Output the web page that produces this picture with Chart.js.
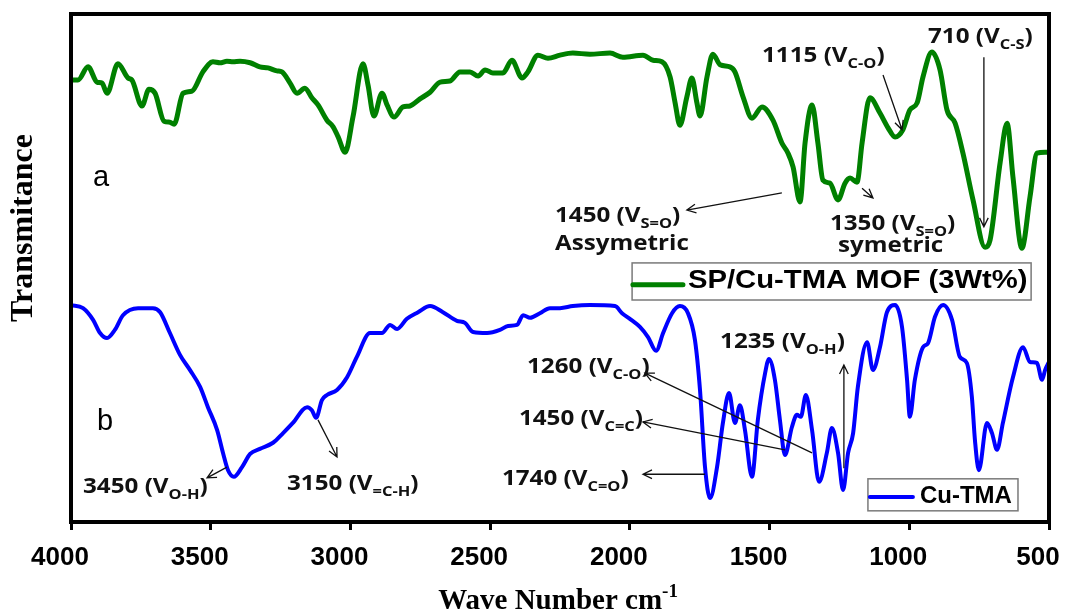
<!DOCTYPE html>
<html><head><meta charset="utf-8">
<script src="https://cdn.jsdelivr.net/npm/chart.js@4.4.1/dist/chart.umd.min.js"></script>
<style>html,body{margin:0;padding:0;background:#fff;}#wrap{width:1066px;height:613px;position:relative;}</style>
</head><body><div id="wrap"><canvas id="c"></canvas></div>
<script>
// ---- data (wavenumber cm-1, transmittance in arbitrary units) ----
const xTicks = [4000,3500,3000,2500,2000,1500,1000,500];
const seriesNames = ['SP/Cu-TMA MOF (3Wt%)', 'Cu-TMA'];
const greenWn = [4000,3975,3939,3907,3889,3871,3832,3796,3782,3746,
 3721,3699,3667,3646,3631,3599,3567,3528,3492,3467,
 3442,3420,3395,3359,3324,3295,3263,3245,3216,3191,
 3163,3138,3116,3084,3062,3044,3019,2991,2955,2937,
 2916,2887,2869,2844,2812,2787,2751,2715,2679,2644,
 2608,2572,2543,2518,2490,2454,2422,2386,2365,2329,
 2293,2250,2204,2143,2071,2025,1953,1917,1885,1856,
 1838,1821,1796,1778,1760,1749,1724,1703,1677,1642,
 1624,1595,1563,1527,1488,1456,1434,1416,1391,1373,
 1348,1327,1309,1284,1255,1230,1212,1187,1169,1141,
 1105,1076,1051,1023,998,972,951,919,890,865,
 836,808,772,729,711,675,650,629,597,568,
 543,514,500];
const greenT = [87.0,87.0,89.6,86.6,86.4,84.4,90.2,87.4,87.0,81.9,
 85.2,84.4,78.9,78.7,78.3,84.4,84.8,88.6,90.6,90.4,
 90.7,90.6,90.7,90.4,89.6,89.4,88.8,88.6,86.4,84.4,
 85.4,83.5,82.1,79.1,77.8,75.8,72.8,79.7,90.2,86.0,
 79.9,84.4,82.1,79.7,81.7,81.9,83.3,84.6,86.6,86.8,
 88.6,88.6,87.8,89.0,88.4,88.4,90.9,87.4,88.6,91.9,
 91.3,91.9,92.3,92.1,92.3,91.5,91.9,90.9,90.6,87.6,
 82.5,78.1,83.7,87.4,82.5,79.9,87.6,92.1,90.0,89.6,
 88.6,83.7,79.5,81.7,79.1,74.6,72.6,69.9,63.0,74.6,
 82.1,74.6,67.3,66.7,63.4,66.7,67.7,66.9,74.6,83.5,
 80.5,77.6,75.8,77.2,81.1,82.5,87.6,92.5,89.0,81.1,
 78.5,72.6,63.4,54.1,55.5,70.7,78.5,67.9,53.9,64.0,
 72.6,72.8,72.8];
const blueWn = [4000,3957,3921,3896,3871,3843,3814,3760,3707,3681,
 3646,3610,3574,3538,3510,3477,3456,3438,3417,3388,
 3359,3324,3277,3241,3206,3155,3138,3123,3102,3084,
 3048,3012,2977,2930,2887,2858,2833,2798,2758,2715,
 2669,2619,2590,2561,2511,2465,2436,2404,2382,2357,
 2322,2286,2250,2204,2143,2053,2028,2000,1964,1935,
 1906,1881,1849,1821,1792,1767,1749,1731,1713,1688,
 1667,1645,1624,1606,1588,1563,1542,1516,1502,1481,
 1463,1445,1420,1402,1388,1370,1348,1323,1295,1277,
 1255,1237,1219,1201,1184,1151,1130,1105,1080,1051,
 1026,1008,998,980,951,933,908,879,847,819,
 794,776,765,751,722,704,686,665,629,593,
 568,543,525,514,500];
const blueT = [42.7,42.1,39.8,37.2,36.2,37.8,40.7,42.1,42.1,41.3,
 37.2,32.9,29.9,26.6,22.6,18.1,13.6,10.2,8.9,10.8,
 13.4,14.4,15.6,17.5,19.5,22.6,22.0,20.5,24.0,25.0,
 26.0,28.5,32.5,37.2,37.2,38.8,38.0,40.0,41.3,42.5,
 41.3,39.6,39.2,37.4,37.2,37.8,38.6,38.8,40.7,40.2,
 41.1,42.1,42.1,42.5,42.7,42.5,41.1,40.0,38.4,36.4,
 33.7,37.2,41.1,42.5,41.1,35.8,26.0,10.8,4.7,10.8,
 19.5,25.4,19.5,23.0,18.1,8.9,20.1,29.3,32.1,28.0,
 20.1,13.2,18.7,21.1,20.7,25.0,18.1,7.9,13.6,18.5,
 13.6,6.3,13.6,17.5,26.6,35.4,29.9,34.4,41.3,42.7,
 38.4,28.0,20.7,28.0,34.4,35.2,40.4,42.7,39.8,32.5,
 31.3,24.6,16.1,10.2,19.5,17.5,14.2,19.5,28.5,34.4,
 31.5,31.3,28.0,29.9,31.5];

// ---- annotations (positions in data units: wavenumber, transmittance) ----
const peakLabels = [
 {wn:1527, v:90.6, parts:[['1115 (V'],['C-O','sub'],[')']]},
 {wn:933,  v:94.3, parts:[['710 (V'],['C-S','sub'],[')']]},
 {wn:2268, v:59.1, parts:[['1450 (V'],['S=O','sub'],[')']]},
 {wn:2268, v:53.5, parts:[['Assymetric']]},
 {wn:1284, v:57.5, parts:[['1350 (V'],['S=O','sub'],[')']]},
 {wn:1255, v:53.1, parts:[['symetric']]},
 {wn:3957, v:5.7,  parts:[['3450 (V'],['O-H','sub'],[')']]},
 {wn:3227, v:6.3,  parts:[['3150 (V'],['=C-H','sub'],[')']]},
 {wn:1677, v:34.3, parts:[['1235 (V'],['O-H','sub'],[')']]},
 {wn:2368, v:29.3, parts:[['1260 (V'],['C-O','sub'],[')']]},
 {wn:2397, v:19.1, parts:[['1450 (V'],['C=C','sub'],[')']]},
 {wn:2458, v:7.3,  parts:[['1740 (V'],['C=O','sub'],[')']]}
];
const arrows = [
 [1094,88.0,1026,77.2],[733,91.5,733,58.1],[1456,64.8,1796,61.4],[1169,65.7,1130,63.8],
 [3442,10.8,3513,8.7],[3116,20.1,3048,12.8],[1234,10.6,1234,30.9],
 [1348,13.6,1946,29.3],[1445,14.2,1953,19.7],[1731,9.4,1953,9.4]
];
const curveTags = [{wn:3921, v:66.1, text:'a'},{wn:3907, v:18.1, text:'b'}];
const legendBoxes = [
 {x1:1992,x2:564,y1:51.0,y2:43.7,l1:1989,l2:1810,lv:46.7,tw:1792,tv:46.1,color:'#008000',lw:5,sx:1.17,size:25},
 {x1:1148,x2:611,y1:8.5,y2:2.2,l1:1141,l2:987,lv:4.9,tw:962,tv:3.7,color:'#0000ff',lw:4,sx:1.0,size:24}
];

const SANS = '"Liberation Sans", Arial, sans-serif';
const LBL = '"Open Sans", "Noto Sans", sans-serif';
const SERIF = '"Liberation Serif", "Times New Roman", serif';

function drawParts(ctx, x, y, parts, size, family, weight, sx){
  ctx.save(); ctx.translate(x, y); ctx.scale(sx, 1);
  ctx.textAlign = 'left'; ctx.textBaseline = 'alphabetic';
  let cx = 0;
  for (const [t, k] of parts){
    const s = k === 'sub' ? size*0.68 : (k === 'sup' ? size*0.66 : size);
    const dy = k === 'sub' ? size*0.28 : (k === 'sup' ? -size*0.42 : 0);
    ctx.font = `${weight} ${s}px ${family}`;
    ctx.fillText(t, cx, dy);
    cx += ctx.measureText(t).width;
  }
  ctx.restore();
}
function arrow(ctx, x1, y1, x2, y2){
  const ang = Math.atan2(y2-y1, x2-x1), h = 10, w = 0.45;
  ctx.beginPath(); ctx.moveTo(x1,y1); ctx.lineTo(x2,y2);
  ctx.moveTo(x2 - h*Math.cos(ang-w), y2 - h*Math.sin(ang-w));
  ctx.lineTo(x2, y2);
  ctx.lineTo(x2 - h*Math.cos(ang+w), y2 - h*Math.sin(ang+w));
  ctx.stroke();
}

const decor = {
  id: 'decor',
  afterDraw(chart){
    const {ctx, chartArea: a, scales: {x, y}} = chart;
    const X = w => x.getPixelForValue(w), Y = v => y.getPixelForValue(v);
    ctx.save();
    // frame
    ctx.strokeStyle = '#000'; ctx.lineWidth = 4; ctx.lineCap = 'square';
    ctx.beginPath();
    ctx.moveTo(a.left, a.top); ctx.lineTo(a.right, a.top); ctx.lineTo(a.right, a.bottom);
    ctx.lineTo(a.left, a.bottom); ctx.closePath(); ctx.stroke();
    // arrows
    ctx.lineCap = 'butt'; ctx.strokeStyle = '#111'; ctx.lineWidth = 1.3;
    for (const [w1,v1,w2,v2] of arrows) arrow(ctx, X(w1), Y(v1), X(w2), Y(v2));
    // peak labels
    ctx.fillStyle = '#111';
    for (const p of peakLabels) drawParts(ctx, X(p.wn), Y(p.v), p.parts, 22, LBL, 700, 1.1);
    // a / b
    ctx.fillStyle = '#000';
    for (const t of curveTags) drawParts(ctx, X(t.wn), Y(t.v), [[t.text]], 29, SANS, 400, 1.0);
    // legends
    legendBoxes.forEach((L, i) => {
      const bx = X(L.x1), by = Y(L.y1), bw = X(L.x2)-bx, bh = Y(L.y2)-by;
      ctx.fillStyle = '#fff'; ctx.fillRect(bx, by, bw, bh);
      ctx.strokeStyle = '#7a7a7a'; ctx.lineWidth = 1.5; ctx.strokeRect(bx, by, bw, bh);
      ctx.strokeStyle = L.color; ctx.lineWidth = L.lw; ctx.lineCap = 'round';
      ctx.beginPath(); ctx.moveTo(X(L.l1), Y(L.lv)); ctx.lineTo(X(L.l2), Y(L.lv)); ctx.stroke();
      ctx.lineCap = 'butt';
      ctx.fillStyle = '#000';
      drawParts(ctx, X(L.tw), Y(L.tv), [[seriesNames[i]]], L.size, SANS, 700, L.sx);
    });
    // axis titles
    ctx.fillStyle = '#000';
    ctx.save();
    ctx.translate(24, 228); ctx.rotate(-Math.PI/2);
    ctx.font = `bold 32px ${SERIF}`; ctx.textAlign = 'center'; ctx.textBaseline = 'middle';
    ctx.fillText('Transmitance', 0, 0);
    ctx.restore();
    ctx.font = `bold 29px ${SERIF}`;
    const main = 'Wave Number cm';
    const mw = ctx.measureText(main).width;
    ctx.font = `bold 19px ${SERIF}`;
    const sw = ctx.measureText('-1').width;
    const sx0 = (a.left + a.right)/2 - (mw + sw)/2 - 2;
    drawParts(ctx, sx0, 609, [[main],['-1','sup']], 29, SERIF, 'bold', 1.0);
    ctx.restore();
  }
};

const toPts = (xs, ys) => xs.map((w, i) => ({x: w, y: ys[i]}));

new Chart(document.getElementById('c'), {
  type: 'line',
  data: {
    datasets: [
      {label: seriesNames[0], data: toPts(greenWn, greenT), borderColor: '#008000', borderWidth: 5,
       pointRadius: 0, cubicInterpolationMode: 'monotone', fill: false},
      {label: seriesNames[1], data: toPts(blueWn, blueT), borderColor: '#0000ff', borderWidth: 4,
       pointRadius: 0, cubicInterpolationMode: 'monotone', fill: false}
    ]
  },
  options: {
    responsive: true, maintainAspectRatio: false, animation: false,
    layout: {padding: {top: 14, right: 0, left: 0, bottom: 0}},
    plugins: {legend: {display: false}, tooltip: {enabled: false}},
    scales: {
      x: {
        type: 'linear', min: 500, max: 4000, reverse: true,
        afterBuildTicks: s => { s.ticks = xTicks.map(v => ({value: v})); },
        afterFit: s => { s.height = 91; s.paddingRight = 17; s.paddingLeft = 0; },
        border: {display: false},
        grid: {display: true, drawOnChartArea: false, drawTicks: true, tickLength: 8, lineWidth: 3, color: '#000'},
        ticks: {color: '#000', padding: 12, labelOffset: -11, maxRotation: 0, autoSkip: false,
                callback: v => String(v),
                font: {family: SANS, size: 26, weight: 'bold'}}
      },
      y: {
        min: 0, max: 100,
        afterFit: s => { s.width = 71; },
        border: {display: false},
        grid: {display: false},
        ticks: {display: false}
      }
    }
  },
  plugins: [decor]
});
</script>
</body></html>
